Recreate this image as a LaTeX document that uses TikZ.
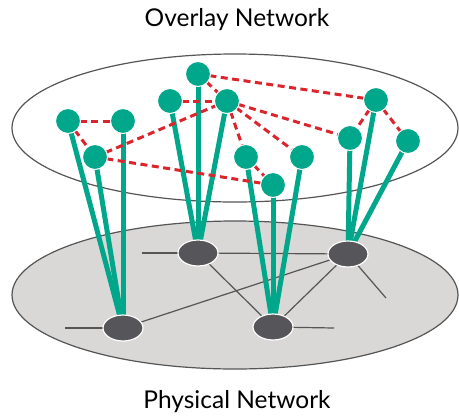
\documentclass[tikz,border=0pt]{standalone}
\usepackage{fontspec}
\setmainfont{Lato}
\definecolor{ovgreen}{RGB}{0,167,138}
\definecolor{ovred}{RGB}{218,37,45}
\definecolor{phfill}{RGB}{217,216,215}
\definecolor{phnode}{RGB}{86,86,90}
\definecolor{rim}{RGB}{85,85,85}
\tikzset{
  ovnode/.style={circle,fill=ovgreen,draw=white,line width=1pt,minimum size=25pt,inner sep=0pt},
  phnodestyle/.style={ellipse,fill=phnode,draw=white,line width=1.2pt,minimum width=40pt,minimum height=26pt,inner sep=0pt},
  tie/.style={ovgreen,line width=5pt},
  overlaylink/.style={ovred,line width=3pt,dash pattern=on 7pt off 4.5pt},
  phlink/.style={rim,line width=1.2pt},
  plane/.style={rim,line width=1.2pt},
  caption/.style={font=\fontsize{24.5}{28}\selectfont,text=black}
}
\usetikzlibrary{shapes.geometric}
\begin{document}
\begin{tikzpicture}[x=1pt,y=-1pt]
\useasboundingbox (0,0) rectangle (459,416);
% planes
\draw[plane,fill=phfill] (235,295) ellipse [x radius=223, y radius=74];
\draw[plane] (235,128) ellipse [x radius=223, y radius=74];
% captions
\node[caption] (t1) at (237,20) {Overlay Network};
\node[caption] (t2) at (237,402) {Physical Network};
% stub coordinates
\coordinate (s1) at (65,328);
\coordinate (s2) at (142,253);
\coordinate (s3) at (386,298);
\coordinate (s4) at (334,328);
% overlay node positions
\coordinate (pA) at (68,121);
\coordinate (pB) at (123,121);
\coordinate (pC) at (95,157);
\coordinate (pD) at (170,101);
\coordinate (pE) at (198,74);
\coordinate (pF) at (227,101);
\coordinate (pG) at (376,100);
\coordinate (pH) at (350,138);
\coordinate (pI) at (408,141);
\coordinate (pJ) at (302,157);
\coordinate (pK) at (246,157);
\coordinate (pL) at (273,185);
% physical node positions
\coordinate (q1) at (123,328);
\coordinate (q2) at (198,253);
\coordinate (q3) at (348,254);
\coordinate (q4) at (273,327);
% physical links
\draw[phlink] (s1) -- (q1);
\draw[phlink] (s2) -- (q2);
\draw[phlink] (q2) -- (q3);
\draw[phlink] (q2) -- (q4);
\draw[phlink] (q1) -- (q3);
\draw[phlink] (q3) -- (q4);
\draw[phlink] (q3) -- (s3);
\draw[phlink] (q4) -- (s4);
% green ties
\foreach \a/\b in {pA/q1,pB/q1,pC/q1,pD/q2,pE/q2,pF/q2,pK/q4,pL/q4,pJ/q4,pH/q3,pG/q3,pI/q3}
  \draw[tie] (\a) -- (\b);
% physical nodes
\node[phnodestyle] (P1) at (q1) {};
\node[phnodestyle] (P2) at (q2) {};
\node[phnodestyle] (P3) at (q3) {};
\node[phnodestyle] (P4) at (q4) {};
% overlay links
\foreach \a/\b in {pA/pB,pA/pC,pC/pF,pC/pL,pD/pF,pE/pF,pE/pG,pF/pH,pF/pJ,pF/pK,pK/pL,pG/pH,pG/pI}
  \draw[overlaylink] (\a) -- (\b);
% overlay nodes
\node[ovnode] (A) at (pA) {};
\node[ovnode] (B) at (pB) {};
\node[ovnode] (C) at (pC) {};
\node[ovnode] (D) at (pD) {};
\node[ovnode] (E) at (pE) {};
\node[ovnode] (F) at (pF) {};
\node[ovnode] (G) at (pG) {};
\node[ovnode] (H) at (pH) {};
\node[ovnode] (I) at (pI) {};
\node[ovnode] (J) at (pJ) {};
\node[ovnode] (K) at (pK) {};
\node[ovnode] (L) at (pL) {};
\end{tikzpicture}
\end{document}
